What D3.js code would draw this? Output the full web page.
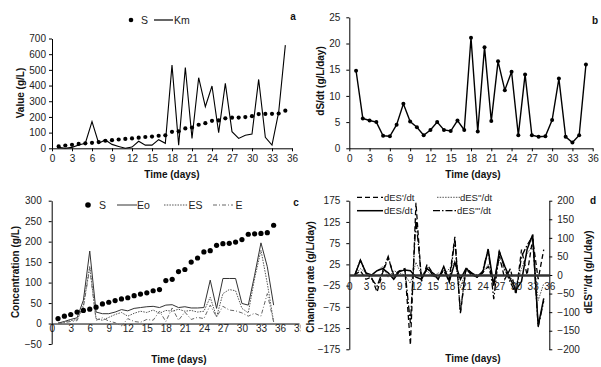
<!DOCTYPE html>
<html lang="en">
<head>
<meta charset="utf-8">
<title>Substrate and enzyme kinetics panels</title>
<script src="https://cdn.jsdelivr.net/npm/d3@7"></script>
<style>
  body { margin: 0; background: #fff; }
  svg { font-family: "Liberation Sans", Arial, sans-serif; }
  .tick text { font-size: 10px; fill: #222; }
  .title { font-size: 10px; font-weight: bold; fill: #111; }
  .lab { font-size: 10px; font-weight: bold; fill: #111; }
  .leg { font-size: 10.5px; fill: #222; }
</style>
</head>
<body>
<script>
// data, one value per day (day 1..35)
var days = d3.range(1, 36);
var S = [12, 18, 22, 28, 32, 35, 40, 48, 52, 56, 60, 63, 68, 72, 75, 80, 83, 105, 108, 127,
         132, 150, 160, 175, 178, 191, 195, 196, 199, 205, 218, 219, 220, 222, 240];
var Km = [6, 0, 6, 21, 32, 170, 32, 53, 25, 12, 0, 8, 45, 20, 20, 55, 32, 530, 20, 515,
          63, 450, 265, 397, 100, 414, 106, 63, 83, 91, 439, 70, 21, 230, 658];
var dSdt = [14.8, 5.7, 5.3, 5.0, 2.4, 2.3, 4.5, 8.5, 5.1, 4.0, 2.5, 3.5, 5.0, 3.5, 3.3, 5.3, 3.5, 21.1, 3.2, 19.3,
            5.2, 16.6, 11.1, 14.6, 2.5, 14.1, 2.5, 2.2, 2.3, 5.4, 13.3, 2.2, 1.1, 2.5, 16.0];
var Eo = [1, 5, 10, 14, 57, 177, 28, 24, 24, 28, 34, 31, 37, 39, 41, 42, 39, 45, 46, 39,
          41, 38, 38, 39, 106, 37, 110, 110, 110, 49, 45, 118, 197, 139, 45];
var ES = [1, 3, 7, 10, 45, 140, 12, 8, 15, 22, 27, 18, 25, 30, 27, 33, 25, 32, 30, 35,
          30, 32, 28, 30, 64, 16, 73, 83, 80, 37, 26, 110, 179, 98, 4];
var E = [0, 2, 5, 7, 40, 135, 8, 14, 6, 2, -6, 12, 5, 3, 10, 8, 30, 5, 38, 8,
         28, 10, 15, 12, 45, 16, 42, 33, 31, 26, 18, 25, 18, 73, 4];
var dESdt = [0, 35, 5, 0, 10, 15, 5, -10, 8, 12, 10, -5, -10, 15, 5, -10, 20, -15, 30, -10,
             15, 5, -5, 5, 60, -25, 55, 20, -10, -35, -15, 60, 95, -120, -55];
var dES1dt = [0, 10, -10, -5, -40, 5, 40, 0, 10, 15, -165, 170, -15, 25, 5, -5, 10, -10, 90, -90,
              15, 0, -5, 5, 20, -20, 45, -10, 15, -45, 60, 0, 85, -10, 60];
var dES2dt = [0, 15, 5, -5, 10, 20, -5, 10, 5, 0, -20, 30, 0, 10, -5, 5, 0, 15, 30, -30,
              10, 5, 0, 5, 25, -15, 35, 10, -5, -25, 15, 50, 70, -60, -20];
var dES3dt = [0, 40, 5, -10, -30, 10, 50, -5, 10, 15, -130, 150, -10, 20, 0, -10, 15, -20, 95, -100,
              20, 5, -5, 10, 70, -65, 65, 15, -20, -50, 50, 80, 105, -140, -70];
var xTicks = d3.range(0, 37, 3);
var xTicksC = d3.range(0, 40, 3);

var svg = d3.select("body").append("svg")
  .attr("width", 601).attr("height", 367);

// panel c is cut at its right border (the "39" label is half hidden)
// rect is in the axis group's own coordinates
svg.append("clipPath").attr("id", "clipC").append("rect")
  .attr("x", 0).attr("y", -10).attr("width", 300.5).attr("height", 30);

function styleAxis(g) {
  g.select(".domain").attr("stroke", "#000");
  g.selectAll(".tick line").attr("stroke", "#000");
}
function title(x, y, txt, rot) {
  var t = svg.append("text").attr("class", "title").attr("text-anchor", "middle").text(txt);
  if (rot) t.attr("transform", "translate(" + x + "," + y + ") rotate(-90)").attr("dy", "0.35em");
  else t.attr("x", x).attr("y", y).attr("dy", "0.35em");
}
function pairs(vals) { return days.map(function(d, i) { return [d, vals[i]]; }); }

// ---------- panel a ----------
var xA = d3.scaleLinear().domain([0, 36]).range([52, 292]);
var yA = d3.scaleLinear().domain([0, 700]).range([148.3, 38.5]);
svg.append("g").attr("transform", "translate(0,148.3)")
  .call(d3.axisBottom(xA).tickValues(xTicks).tickSize(3).tickSizeOuter(0).tickPadding(4)).call(styleAxis);
svg.append("g").attr("transform", "translate(52,0)")
  .call(d3.axisLeft(yA).tickValues(d3.range(0, 701, 100)).tickSize(3).tickSizeOuter(0).tickPadding(3)).call(styleAxis);
var lineA = d3.line().x(function(d) { return xA(d[0]); }).y(function(d) { return yA(d[1]); });
svg.append("path").datum(pairs(Km)).attr("d", lineA)
  .attr("fill", "none").attr("stroke", "#000").attr("stroke-width", 1.1);
svg.append("g").selectAll("circle").data(pairs(S)).enter().append("circle")
  .attr("cx", function(d) { return xA(d[0]); }).attr("cy", function(d) { return yA(d[1]); })
  .attr("r", 2.1).attr("fill", "#000");
title(172, 174, "Time (days)");
title(20, 93, "Value (g/L)", true);
svg.append("text").attr("class", "lab").attr("x", 293).attr("y", 19.5).attr("text-anchor", "middle").text("a");
svg.append("circle").attr("cx", 131).attr("cy", 20).attr("r", 2.3).attr("fill", "#000");
svg.append("text").attr("class", "leg").attr("x", 141).attr("y", 24).text("S");
svg.append("line").attr("x1", 154).attr("x2", 173).attr("y1", 20).attr("y2", 20).attr("stroke", "#000").attr("stroke-width", 1.2);
svg.append("text").attr("class", "leg").attr("x", 174).attr("y", 24).text("Km");

// ---------- panel b ----------
var xB = d3.scaleLinear().domain([0, 36]).range([349.3, 592.7]);
var yB = d3.scaleLinear().domain([0, 25]).range([148.3, 17.3]);
svg.append("g").attr("transform", "translate(0,148.3)")
  .call(d3.axisBottom(xB).tickValues(xTicks).tickSize(3).tickSizeOuter(0).tickPadding(4)).call(styleAxis);
svg.append("g").attr("transform", "translate(349.3,0)")
  .call(d3.axisLeft(yB).tickValues(d3.range(0, 26, 5)).tickSize(3).tickSizeOuter(0).tickPadding(6)).call(styleAxis);
var lineB = d3.line().x(function(d) { return xB(d[0]); }).y(function(d) { return yB(d[1]); });
svg.append("path").datum(pairs(dSdt)).attr("d", lineB)
  .attr("fill", "none").attr("stroke", "#000").attr("stroke-width", 1.4);
svg.append("g").selectAll("circle").data(pairs(dSdt)).enter().append("circle")
  .attr("cx", function(d) { return xB(d[0]); }).attr("cy", function(d) { return yB(d[1]); })
  .attr("r", 2).attr("fill", "#000");
title(473, 174, "Time (days)");
title(320, 81, "dS/dt (g/L/day)", true);
svg.append("text").attr("class", "lab").attr("x", 595).attr("y", 24).attr("text-anchor", "middle").text("b");

// ---------- panel c ----------
var xC = d3.scaleLinear().domain([0, 39]).range([51.7, 299]);
var yC = d3.scaleLinear().domain([-50, 300]).range([344, 200.7]);
svg.append("g").attr("transform", "translate(0," + yC(0) + ")").attr("clip-path", "url(#clipC)")
  .call(d3.axisBottom(xC).tickValues(xTicksC).tickSize(0).tickPadding(1)).call(styleAxis);
svg.append("g").attr("transform", "translate(51.7,0)")
  .call(d3.axisLeft(yC).tickValues(d3.range(-50, 301, 50)).tickSize(3).tickSizeOuter(0).tickPadding(7)).call(styleAxis);
var lineC = d3.line().x(function(d) { return xC(d[0]); }).y(function(d) { return yC(d[1]); });
svg.append("path").datum(pairs(Eo)).attr("d", lineC)
  .attr("fill", "none").attr("stroke", "#333").attr("stroke-width", 1);
svg.append("path").datum(pairs(ES)).attr("d", lineC)
  .attr("fill", "none").attr("stroke", "#555").attr("stroke-width", 1).attr("stroke-dasharray", "1.5,1.2");
svg.append("path").datum(pairs(E)).attr("d", lineC)
  .attr("fill", "none").attr("stroke", "#666").attr("stroke-width", 1).attr("stroke-dasharray", "4,2,1,2");
svg.append("g").selectAll("circle").data(pairs(S)).enter().append("circle")
  .attr("cx", function(d) { return xC(d[0]); }).attr("cy", function(d) { return yC(d[1]); })
  .attr("r", 2.6).attr("fill", "#000");
title(179, 359, "Time (days)");
title(15, 272, "Concentration (g/L)", true);
svg.append("text").attr("class", "lab").attr("x", 296).attr("y", 205.5).attr("text-anchor", "middle").text("c");
svg.append("circle").attr("cx", 88).attr("cy", 205).attr("r", 2.8).attr("fill", "#000");
svg.append("text").attr("class", "leg").attr("x", 99).attr("y", 209).text("S");
svg.append("line").attr("x1", 117).attr("x2", 137).attr("y1", 205).attr("y2", 205).attr("stroke", "#333");
svg.append("text").attr("class", "leg").attr("x", 137).attr("y", 209).text("Eo");
svg.append("line").attr("x1", 164).attr("x2", 188).attr("y1", 205).attr("y2", 205).attr("stroke", "#555").attr("stroke-dasharray", "1.5,1.2");
svg.append("text").attr("class", "leg").attr("x", 188.5).attr("y", 209).text("ES");
svg.append("line").attr("x1", 213).attr("x2", 233).attr("y1", 205).attr("y2", 205).attr("stroke", "#666").attr("stroke-dasharray", "4,2,1,2");
svg.append("text").attr("class", "leg").attr("x", 235.5).attr("y", 209).text("E");

// ---------- panel d ----------
var xD = d3.scaleLinear().domain([0, 36]).range([349.3, 549.3]);
var yDL = d3.scaleLinear().domain([-175, 175]).range([349.3, 200.7]);
var yDR = d3.scaleLinear().domain([-200, 200]).range([349.3, 200.7]);
svg.append("g").attr("transform", "translate(349.3,0)")
  .call(d3.axisLeft(yDL).tickValues(d3.range(-175, 176, 50)).tickSize(3).tickSizeOuter(0).tickPadding(6)).call(styleAxis);
svg.append("g").attr("transform", "translate(549.3,0)")
  .call(d3.axisRight(yDR).tickValues(d3.range(-200, 201, 50)).tickSize(3).tickSizeOuter(0).tickPadding(5)).call(styleAxis);
var lineDL = d3.line().x(function(d) { return xD(d[0]); }).y(function(d) { return yDL(d[1]); });
var lineDR = d3.line().x(function(d) { return xD(d[0]); }).y(function(d) { return yDR(d[1]); });
svg.append("path").datum(pairs(dES2dt)).attr("d", lineDL)
  .attr("fill", "none").attr("stroke", "#555").attr("stroke-width", 1).attr("stroke-dasharray", "1.5,1.2");
svg.append("path").datum(pairs(dESdt)).attr("d", lineDL)
  .attr("fill", "none").attr("stroke", "#000").attr("stroke-width", 1.5);
svg.append("path").datum(pairs(dES1dt)).attr("d", lineDL)
  .attr("fill", "none").attr("stroke", "#000").attr("stroke-width", 1.3).attr("stroke-dasharray", "5,3");
svg.append("path").datum(pairs(dES3dt)).attr("d", lineDR)
  .attr("fill", "none").attr("stroke", "#000").attr("stroke-width", 1.3).attr("stroke-dasharray", "7,2,1.5,2");
var gxD = svg.append("g").attr("transform", "translate(0," + yDL(0) + ")")
  .call(d3.axisBottom(xD).tickValues(xTicks).tickSize(0).tickPadding(8));
gxD.select(".domain").attr("stroke", "#333").attr("stroke-width", 2.5);
title(473, 358, "Time (days)");
title(310, 277, "Changing rate (g/L/day)", true);
title(588, 272, "dES'''/dt (g/L/day)", true);
svg.append("text").attr("class", "lab").attr("x", 593).attr("y", 203.5).attr("text-anchor", "middle").text("d");
var legD = [
  {x1: 357, x2: 383, y: 197.3, dash: "5,3", col: "#000", w: 1.3, tx: 384, txt: "dES'/dt"},
  {x1: 437, x2: 460, y: 197.3, dash: "1.5,1.2", col: "#555", w: 1, tx: 460, txt: "dES''/dt"},
  {x1: 357, x2: 383, y: 210.7, dash: null, col: "#000", w: 1.5, tx: 384, txt: "dES/dt"},
  {x1: 433, x2: 457, y: 210.7, dash: "7,2,1.5,2", col: "#000", w: 1.3, tx: 457, txt: "dES'''/dt"}
];
legD.forEach(function(l) {
  svg.append("line").attr("x1", l.x1).attr("x2", l.x2).attr("y1", l.y).attr("y2", l.y)
    .attr("stroke", l.col).attr("stroke-width", l.w).attr("stroke-dasharray", l.dash);
  svg.append("text").attr("class", "leg").style("font-size", "9.5px")
    .attr("x", l.tx).attr("y", l.y).attr("dy", "0.35em").text(l.txt);
});
</script>
</body>
</html>
